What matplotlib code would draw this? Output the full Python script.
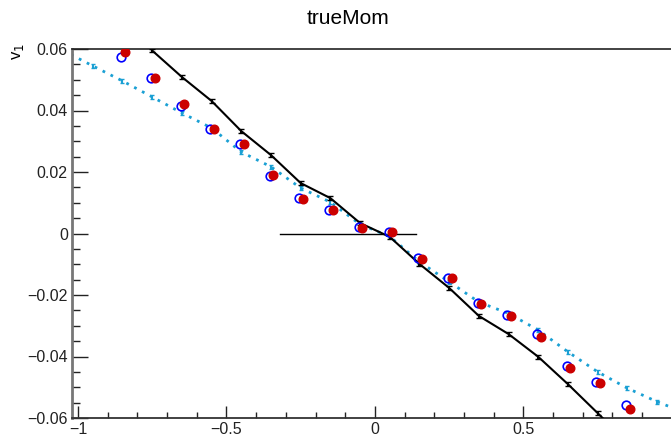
import matplotlib
matplotlib.use("Agg")
import matplotlib.pyplot as plt
from matplotlib.ticker import MultipleLocator, FixedLocator, FuncFormatter
import numpy as np

plt.rcParams['font.family'] = ['Liberation Sans', 'DejaVu Sans']

# black solid curve
x_black = [-0.75, -0.65, -0.55, -0.45, -0.35, -0.25, -0.15, -0.05, 0.05, 0.15, 0.25, 0.35, 0.45, 0.55, 0.65, 0.75, 0.85]
y_black = [0.0595, 0.0509, 0.0431, 0.0333, 0.0255, 0.0164, 0.0115, 0.0034, -0.0011, -0.0099, -0.0177, -0.0268, -0.0327, -0.0401, -0.0490, -0.0584, -0.0680]
e_black = [0.0006] * len(x_black)

# cyan dotted curve
x_cyan = [-1.05, -0.95, -0.85, -0.75, -0.65, -0.55, -0.45, -0.35, -0.25, -0.15, -0.05, 0.05, 0.15, 0.25, 0.35, 0.45, 0.55, 0.65, 0.75, 0.85, 0.95, 1.05]
y_cyan = [0.0595, 0.0545, 0.0496, 0.0444, 0.0392, 0.0343, 0.0265, 0.0217, 0.0148, 0.0102, 0.0030, -0.0010, -0.0092, -0.0157, -0.0223, -0.0260, -0.0314, -0.0385, -0.0450, -0.0503, -0.0547, -0.0585]
e_cyan = [0.0006] * len(x_cyan)

# open blue circles
x_pts = [-0.85, -0.75, -0.65, -0.55, -0.45, -0.35, -0.25, -0.15, -0.05, 0.05, 0.15, 0.25, 0.35, 0.45, 0.55, 0.65, 0.75, 0.85]
y_blue = [0.0574, 0.0506, 0.0415, 0.0340, 0.0291, 0.0187, 0.0116, 0.0076, 0.0021, 0.0005, -0.0080, -0.0144, -0.0226, -0.0265, -0.0327, -0.0430, -0.0482, -0.0558]
# filled red circles
y_red = [0.0590, 0.0506, 0.0421, 0.0340, 0.0291, 0.0190, 0.0112, 0.0076, 0.0018, 0.0005, -0.0084, -0.0145, -0.0229, -0.0268, -0.0336, -0.0437, -0.0487, -0.0570]
e_red = [0.0010] * len(x_pts)


def fmt(v, pos):
    s = ('%.2f' % v).rstrip('0').rstrip('.')
    if s in ('-0', '0'):
        return '0'
    return s.replace('-', '\u2212')


fig = plt.figure(figsize=(6.71, 4.47), dpi=100)
ax = fig.add_axes([72 / 671, 29 / 447, 1 - 72 / 671, 369 / 447])

cyan = '#1aa0d4'
ax.errorbar(x_cyan, y_cyan, yerr=e_cyan, color=cyan, ls=(0, (1.0, 2.2)), lw=2,
            capsize=1.5, elinewidth=1.5, zorder=2)
ax.errorbar(x_black, y_black, yerr=e_black, color='black', ls='-', lw=1.5,
            capsize=2, elinewidth=1.5, zorder=3)
ax.plot([-0.32, 0.14], [0, 0], color='black', lw=1, zorder=1)

xb = np.array(x_pts) - 0.004
xr = np.array(x_pts) + 0.008
ax.plot(xb, y_blue, ls='none', marker='o', ms=6.2, mfc='none', mec='#0000ff', mew=1.2, zorder=4)
ax.errorbar(xr, y_red, yerr=e_red, ls='none', marker='o', ms=6.2, color='#cc0000',
            elinewidth=1.2, zorder=5)

ax.set_xlim(-1.02, 0.997)
ax.set_ylim(-0.06, 0.06)

ax.xaxis.set_major_locator(FixedLocator([-1, -0.5, 0, 0.5]))
ax.xaxis.set_minor_locator(MultipleLocator(0.1))
ax.yaxis.set_major_locator(MultipleLocator(0.02))
ax.yaxis.set_minor_locator(MultipleLocator(0.005))
ax.xaxis.set_major_formatter(FuncFormatter(fmt))
ax.yaxis.set_major_formatter(FuncFormatter(fmt))

ax.tick_params(axis='both', which='both', direction='in', labelsize=11.5, colors='#222222')
ax.tick_params(axis='y', which='major', length=11.5, width=1, pad=3)
ax.tick_params(axis='y', which='minor', length=5.8, width=1)
ax.tick_params(axis='x', which='major', length=8.5, width=1, pad=3)
ax.tick_params(axis='x', which='minor', length=4.5, width=1)

ax.spines['right'].set_visible(False)
ax.spines['left'].set_color('#777777')
ax.spines['left'].set_linewidth(2)
ax.spines['bottom'].set_color('#333333')
ax.spines['bottom'].set_linewidth(1.3)
ax.spines['top'].set_color('#222222')
ax.spines['top'].set_linewidth(1.2)

fig.text(348 / 671, 1 - 18 / 447, 'trueMom', ha='center', va='center', fontsize=15)
fig.text(18 / 671, 1 - 52 / 447, r'v$_{1}$', rotation=90, ha='center', va='center', fontsize=12)

fig.savefig('out.png', dpi=100)
